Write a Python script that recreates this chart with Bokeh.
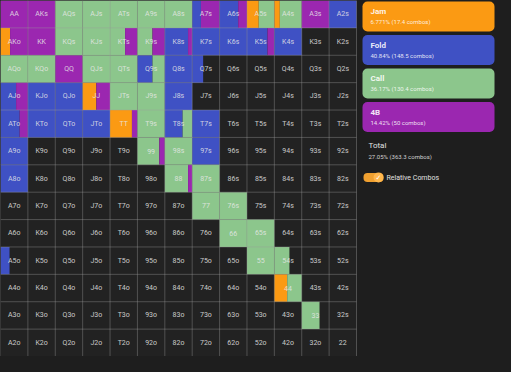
from bokeh.plotting import figure
from bokeh.models import Range1d, BoxAnnotation, ColumnDataSource
from bokeh.core.properties import value
from bokeh.embed import file_html
from bokeh.resources import INLINE

ranks = list("AKQJT98765432")

# action frequencies per hand (fraction of the cell), order: Jam, Fold, Call, 4B
jam = {"AKo": 0.35, "JJ": 0.5, "TT": 0.8, "A5s": 0.43, "A4s": 0.2, "44": 0.47}
fold = {"A7s": 0.32, "A6s": 0.68, "A2s": 1.0, "K8s": 0.85, "K7s": 1.0, "K6s": 1.0,
        "K5s": 0.75, "K4s": 1.0, "Q9s": 0.55, "Q8s": 1.0, "Q7s": 0.4, "AJo": 0.57,
        "KJo": 1.0, "QJo": 1.0, "J8s": 1.0, "ATo": 0.7, "KTo": 1.0, "QTo": 1.0,
        "JTo": 1.0, "T8s": 0.65, "T7s": 1.0, "A9o": 1.0, "97s": 1.0, "A8o": 1.0,
        "A5o": 0.33}
call = {"AQs": 1.0, "AJs": 1.0, "ATs": 1.0, "A9s": 1.0, "A8s": 1.0, "A5s": 0.57,
        "A4s": 0.8, "KQs": 1.0, "KJs": 1.0, "KTs": 0.55, "K9s": 0.55, "AQo": 1.0,
        "KQo": 1.0, "QJs": 1.0, "QTs": 1.0, "Q9s": 0.45, "JTs": 1.0, "J9s": 1.0,
        "T9s": 1.0, "T8s": 0.35, "99": 0.8, "98s": 1.0, "88": 0.85, "87s": 1.0,
        "77": 1.0, "76s": 1.0, "66": 1.0, "65s": 1.0, "55": 1.0, "54s": 0.55,
        "44": 0.53, "33": 0.65}
four_bet = {"AA": 1.0, "AKs": 1.0, "A7s": 0.68, "A6s": 0.32, "A3s": 1.0, "AKo": 0.65,
            "KK": 1.0, "KTs": 0.45, "K9s": 0.45, "K8s": 0.15, "K5s": 0.25, "QQ": 1.0,
            "AJo": 0.43, "JJ": 0.5, "ATo": 0.3, "TT": 0.2, "99": 0.2, "88": 0.15}

action_names = ["Jam", "Fold", "Call", "4B"]
action_stats = ["6.771% (17.4 combos)", "40.84% (148.5 combos)",
                "36.17% (130.4 combos)", "14.42% (50 combos)"]
total_stats = "27.05% (363.3 combos)"

COLORS = ["#fb9a13", "#3f51c4", "#8cc68c", "#9b27b0"]
BG = "#1e1e1e"
CELL_BG = "#222222"

W, H = 495, 356
N = 13
u = H / N  # pixel size of one cell

p = figure(width=W, height=H, output_backend="svg", toolbar_location=None,
           x_range=Range1d(0, W / u), y_range=Range1d(H / u, 0),
           min_border=0, background_fill_color=BG, border_fill_color=BG)
p.axis.visible = False
p.grid.visible = False
p.outline_line_color = None

hands, cx, cy = [], [], []
for r in range(N):
    for c in range(N):
        if r == c:
            h = ranks[r] * 2
        elif c > r:
            h = ranks[r] + ranks[c] + "s"
        else:
            h = ranks[c] + ranks[r] + "o"
        hands.append(h)
        cx.append(c)
        cy.append(r)

# dark cell backgrounds
p.quad(left=cx, right=[c + 1 for c in cx], top=cy, bottom=[r + 1 for r in cy],
       fill_color=CELL_BG, line_color=None)

# strategy segments
seg = {"l": [], "r": [], "t": [], "b": [], "color": []}
for h, c, r in zip(hands, cx, cy):
    start = 0.0
    for freq, col in zip([jam, fold, call, four_bet], COLORS):
        f = freq.get(h, 0.0)
        if f > 0:
            seg["l"].append(c + start)
            seg["r"].append(c + min(start + f, 1.0))
            seg["t"].append(r)
            seg["b"].append(r + 1)
            seg["color"].append(col)
            start += f
p.quad(left="l", right="r", top="t", bottom="b", fill_color="color",
       line_color=None, source=ColumnDataSource(seg))

# grid lines
xs = [[i, i] for i in range(N + 1)] + [[0, N] for i in range(N + 1)]
ys = [[0, N] for i in range(N + 1)] + [[i, i] for i in range(N + 1)]
p.multi_line(xs=xs, ys=ys, line_color="#9a9a9a", line_alpha=0.4, line_width=1)

# hand labels
p.text(x=[c + 0.5 for c in cx], y=[r + 0.5 for r in cy], text=hands,
       text_align="center", text_baseline="middle", text_font=value("Roboto"),
       text_font_size="7px", text_color="#e8e8e8", text_alpha=0.85)

# legend panel
def px(v):
    return v / u

lx0, lx1 = px(362), px(494)
for i, (name, stat, col) in enumerate(zip(action_names, action_stats, COLORS)):
    top = 1 + i * 33.5
    p.add_layout(BoxAnnotation(left=lx0, right=lx1, top=px(top), bottom=px(top + 30),
                               fill_color=col, fill_alpha=1.0, line_alpha=0,
                               border_radius=5, level="underlay"))
    p.text(x=[px(370)], y=[px(top + 10)], text=[name], text_baseline="middle",
           text_font=value("Roboto"), text_font_size="8px", text_font_style="bold",
           text_color="white", text_alpha=0.9)
    p.text(x=[px(370)], y=[px(top + 20)], text=[stat], text_baseline="middle",
           text_font=value("Roboto"), text_font_size="6px", text_color="white",
           text_alpha=0.85)

p.text(x=[px(368)], y=[px(145)], text=["Total"], text_baseline="middle",
       text_font=value("Roboto"), text_font_size="8px", text_color="#e0e0e0")
p.text(x=[px(368)], y=[px(156)], text=[total_stats], text_baseline="middle",
       text_font=value("Roboto"), text_font_size="6px", text_color="#d0d0d0")

# toggle switch
p.add_layout(BoxAnnotation(left=px(363), right=px(383), top=px(172.5), bottom=px(181.5),
                           fill_color="#f0a030", fill_alpha=1.0, line_alpha=0,
                           border_radius=4, level="underlay"))
p.scatter(x=[px(378)], y=[px(177)], size=10, fill_color="#ffb74d",
          line_color=None)
p.text(x=[px(378)], y=[px(177)], text=["✓"], text_align="center",
       text_baseline="middle", text_font=value("DejaVu Sans"),
       text_font_size="7px", text_color="white")
p.text(x=[px(386)], y=[px(177)], text=["Relative Combos"], text_baseline="middle",
       text_font=value("Roboto"), text_font_size="7px", text_color="#e0e0e0")

html = file_html(p, INLINE)
html = html.replace("<head>", "<head><style>html,body{background:#1e1e1e;}</style>", 1)
open("out.html", "w").write(html)
